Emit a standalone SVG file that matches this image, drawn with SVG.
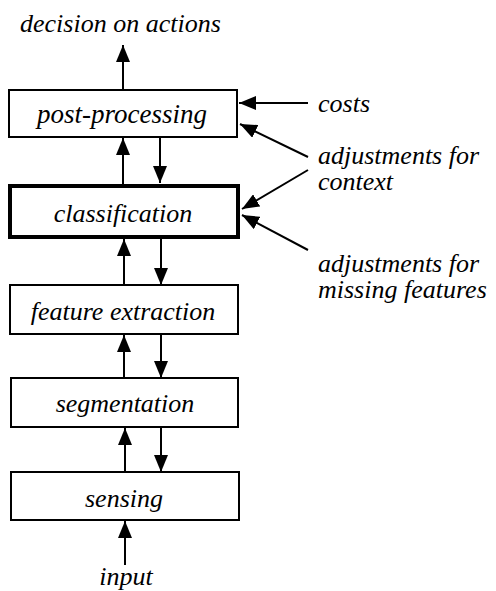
<svg xmlns="http://www.w3.org/2000/svg" width="496" height="591" viewBox="0 0 496 591">
<defs>
<marker id="ah" viewBox="0 0 17 14" refX="17" refY="7" markerWidth="17" markerHeight="14" markerUnits="userSpaceOnUse" orient="auto">
<path d="M0,0 L17,7 L0,14 Z" fill="#000"/>
</marker>
</defs>
<rect width="496" height="591" fill="#fff"/>
<g id="connectors" stroke="#000" stroke-width="2" fill="none">
<line x1="123" y1="90" x2="123" y2="45" marker-end="url(#ah)"/>
<line x1="123" y1="184" x2="123" y2="138" marker-end="url(#ah)"/>
<line x1="160" y1="137" x2="160" y2="183" marker-end="url(#ah)"/>
<line x1="124" y1="285" x2="124" y2="239" marker-end="url(#ah)"/>
<line x1="161" y1="239" x2="161" y2="285" marker-end="url(#ah)"/>
<line x1="124" y1="378" x2="124" y2="335" marker-end="url(#ah)"/>
<line x1="161" y1="334" x2="161" y2="378" marker-end="url(#ah)"/>
<line x1="125" y1="472" x2="125" y2="428" marker-end="url(#ah)"/>
<line x1="161" y1="427" x2="161" y2="472" marker-end="url(#ah)"/>
<line x1="125" y1="565" x2="125" y2="521" marker-end="url(#ah)"/>
<line x1="308" y1="103" x2="239" y2="103" marker-end="url(#ah)"/>
<line x1="308" y1="157" x2="240" y2="124" marker-end="url(#ah)"/>
<line x1="308" y1="170" x2="242" y2="209" marker-end="url(#ah)"/>
<line x1="308" y1="250" x2="242" y2="215" marker-end="url(#ah)"/>
</g>
<g id="post-processing">
<rect x="9" y="90" width="228" height="47" fill="#fff" stroke="#000" stroke-width="2"/>
<text style="font-family:'Liberation Serif';font-style:italic;font-size:27px" text-anchor="middle" x="122" y="123">post-processing</text>
</g>
<g id="classification">
<rect x="10" y="186" width="228" height="51" fill="#fff" stroke="#000" stroke-width="4"/>
<text style="font-family:'Liberation Serif';font-style:italic;font-size:26px" text-anchor="middle" x="123" y="222">classification</text>
</g>
<g id="feature-extraction">
<rect x="10" y="285" width="228" height="49" fill="#fff" stroke="#000" stroke-width="2"/>
<text style="font-family:'Liberation Serif';font-style:italic;font-size:26px" text-anchor="middle" x="123" y="320">feature extraction</text>
</g>
<g id="segmentation">
<rect x="11" y="378" width="227" height="49" fill="#fff" stroke="#000" stroke-width="2"/>
<text style="font-family:'Liberation Serif';font-style:italic;font-size:26px" text-anchor="middle" x="125" y="412">segmentation</text>
</g>
<g id="sensing">
<rect x="11" y="472" width="228" height="48" fill="#fff" stroke="#000" stroke-width="2"/>
<text style="font-family:'Liberation Serif';font-style:italic;font-size:26px" text-anchor="middle" x="124" y="507">sensing</text>
</g>
<g id="labels">
<text style="font-family:'Liberation Serif';font-style:italic;font-size:26px" x="20" y="32">decision on actions</text>
<text style="font-family:'Liberation Serif';font-style:italic;font-size:26px" text-anchor="middle" x="126" y="585">input</text>
<text style="font-family:'Liberation Serif';font-style:italic;font-size:26px" x="318" y="112">costs</text>
<text style="font-family:'Liberation Serif';font-style:italic;font-size:26px" x="318" y="164">adjustments for</text>
<text style="font-family:'Liberation Serif';font-style:italic;font-size:26px" x="318" y="190">context</text>
<text style="font-family:'Liberation Serif';font-style:italic;font-size:26px" x="318" y="272">adjustments for</text>
<text style="font-family:'Liberation Serif';font-style:italic;font-size:26px" x="318" y="298">missing features</text>
</g>
</svg>
